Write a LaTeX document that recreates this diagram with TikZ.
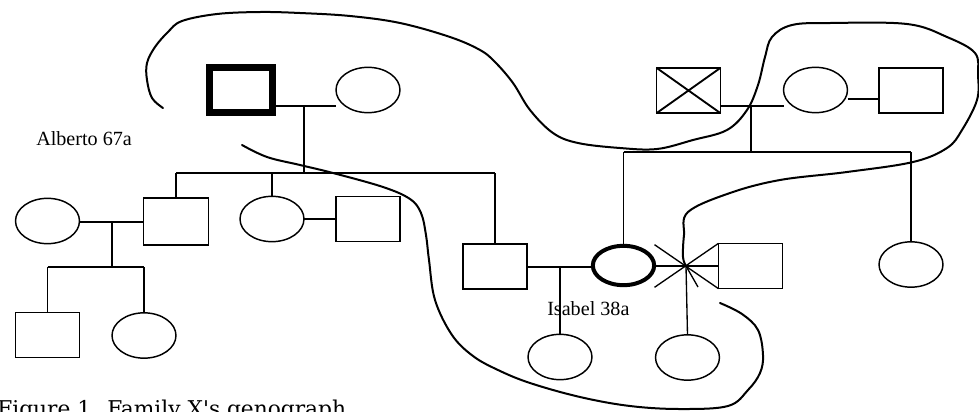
\documentclass[tikz,border=0pt]{standalone}
\usepackage{fontspec}
\setmainfont{Liberation Serif}
\newfontfamily\captionfont{DejaVu Serif}
\usetikzlibrary{shapes.geometric}

\tikzset{
  person/.style={draw, inner sep=0pt, outer sep=0pt, line width=1.1pt,
                 minimum width=48pt, minimum height=34pt},
  male/.style={person, rectangle},
  female/.style={person, ellipse},
  link/.style={line width=1pt},
  lasso/.style={line width=1.5pt, line join=round, line cap=round},
  label/.style={inner sep=0pt, anchor=base west, font=\fontsize{15.1}{17}\selectfont},
}

\begin{document}
\begin{tikzpicture}[x=0.75pt, y=-0.75pt]
\useasboundingbox (0,0) rectangle (979,411);

% --- first generation, left: Alberto and his wife
\node[male, line width=5pt, minimum width=47.5pt, minimum height=34pt] (alb) at (241,90) {};
\node[female] (albw) at (368,90) {};

% --- second generation, left
\node[male, minimum width=49pt, minimum height=35pt] (c1) at (176,221.5) {};
\node[female] (c1w) at (47.5,221) {};
\node[female] (c2) at (272,219) {};
\node[male] (c2h) at (368,219) {};
\node[male] (c3) at (495,266.5) {};

% --- third generation, left
\node[male] (g1) at (47.5,335) {};
\node[female] (g2) at (144,335.5) {};

% --- first generation, right
\node[male] (xb) at (688.5,90.5) {};
\draw[line width=1.4pt] (xb.north west) -- (xb.south east) (xb.south west) -- (xb.north east);
\node[female] (gw) at (815.5,90) {};
\node[male] (gh) at (911,90.5) {};

% --- second generation, right: Isabel, her partners and sister
\node[female, line width=3pt, minimum width=46pt, minimum height=29.5pt] (isa) at (623.5,265.5) {};
\node[male] (ex) at (750.5,266) {};
\node[female] (r1) at (911,264.5) {};

% --- third generation, right
\node[female] (k1) at (560,357) {};
\node[female] (k2) at (687.5,357.5) {};

% --- junction points
\coordinate (m1) at (304,106);
\coordinate (s1) at (304,173);
\coordinate (m2) at (112,222);
\coordinate (s2) at (112,267);
\coordinate (m3) at (751,106);
\coordinate (s3) at (751,152);
\coordinate (m4) at (560,267);
\coordinate (sep) at (686,266);
\coordinate (tick) at (698,287);

% --- Alberto's family
\draw[link] (alb.east |- m1) -- (albw.west |- m1);
\draw[link] (m1) -- (s1);
\draw[link] (c1.north |- s1) -- (c3.north |- s1);
\draw[link] (c1.north |- s1) -- (c1.north);
\draw[link] (c2.north |- s1) -- (c2.north);
\draw[link] (c3.north |- s1) -- (c3.north);

% --- left branch
\draw[link] (c1w.east |- m2) -- (c1.west |- m2);
\draw[link] (m2) -- (s2);
\draw[link] (g1.north |- s2) -- (g2.north |- s2);
\draw[link] (g1.north |- s2) -- (g1.north);
\draw[link] (g2.north |- s2) -- (g2.north);
\draw[link] (c2.east) -- (c2h.west);

% --- Isabel's parents
\draw[link] (xb.east |- m3) -- (gw.west |- m3);
\draw[link] (gw.east |- 0,99) -- (gh.west |- 0,99);
\draw[link] (m3) -- (s3);
\draw[link] (isa.north |- s3) -- (r1.north |- s3);
\draw[link] (isa.north |- s3) -- (isa.north);
\draw[link] (r1.north |- s3) -- (r1.north);

% --- Isabel's unions
\draw[link] (c3.east |- m4) -- (isa.west |- m4);
\draw[link] (m4) -- (k1.north);
\draw[link] (isa.east |- sep) -- (ex.west |- sep);
\draw[link] (ex.north west) -- ++(-64,44);
\draw[link] (ex.south west) -- ++(-64,-44);
\draw[link] (sep) -- (tick);
\draw[link] (sep) -- (k2.north);

% --- boundary lines drawn by hand
\draw[lasso] plot[smooth, tension=0.6] coordinates {
  (163,108) (152,98) (147,80) (147,63) (155,47) (168,32) (182,21) (217,14)
  (260,12) (300,13) (350,16) (400,23) (450,37) (480,50) (495,62) (513,83)
  (530,110) (553,133) (578,143) (620,148) (657,149) (693,140) (727,130)
  (747,110) (758,85) (765,57) (772,37) (792,25) (830,23) (907,24) (947,37)
  (975,53) (978,75) (977,100) (962,130) (947,148) (913,162) (847,172)
  (780,180) (730,193) (688,212) (684,235) (683,257) (686,266)};
\draw[lasso] plot[smooth, tension=0.6] coordinates {
  (242,145) (267,157) (300,165) (333,173) (383,187) (410,199) (421,213)
  (426,235) (429,260) (435,300) (452,335) (473,356) (498,370) (530,383)
  (580,397) (630,406) (680,409) (728,406) (748,390) (760,373) (763,355)
  (758,330) (742,314) (720,303)};

% --- names
\node[label] (alabel) at (36,145) {Alberto 67a};
\node[label] (ilabel) at (547,315) {Isabel 38a};

% --- caption
\node[inner sep=0pt, anchor=base west, font=\captionfont\fontsize{16.3}{18}\selectfont] (cap) at (-3,416) {Figure 1. Family X's genograph};
\end{tikzpicture}
\end{document}
